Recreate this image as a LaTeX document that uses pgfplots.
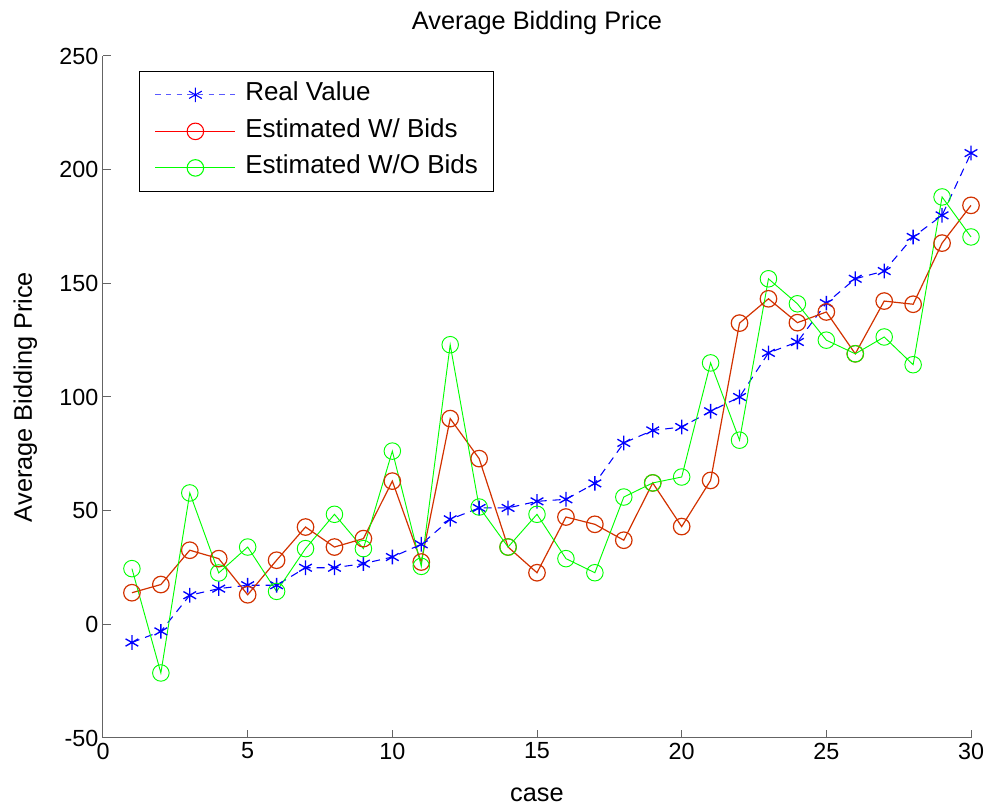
\documentclass[border=0pt]{standalone}
\usepackage{pgfplots}
\pgfplotsset{compat=1.18}
\usepackage{fontspec}
\setmainfont{Liberation Sans}
\definecolor{mred}{RGB}{210,50,0}
\definecolor{mgreen}{RGB}{0,255,0}
\definecolor{mblue}{RGB}{0,0,255}
\definecolor{axgray}{RGB}{100,100,100}
\pgfplotstableread{
x real wb wob
1 -8 13.9 24.5
2 -3.1 17.5 -21.4
3 12.8 32.6 57.8
4 15.7 28.9 22.6
5 17.2 13 34
6 17.2 28.2 14.5
7 24.9 42.8 33.3
8 24.9 34 48.4
9 26.7 37.7 33.3
10 29.6 63 76.2
11 35.2 27.4 25.5
12 46.2 90.5 123
13 51.2 72.9 51.6
14 51.2 34 34
15 54.1 22.7 48.4
16 55 47.2 28.9
17 62 44 22.7
18 79.8 37 56
19 85.3 62.2 62.2
20 86.8 43 64.8
21 93.7 63.3 115
22 100 132.5 81
23 119.4 143.2 152
24 124.2 132.7 141
25 141.3 137.4 125
26 152 119 119
27 155.4 142.2 126.4
28 170.4 140.8 114.2
29 179.9 167.7 188
30 207.3 184.3 170.4
}\datatable
\begin{document}
\begin{tikzpicture}
\begin{axis}[
  scale only axis,
  width=651pt, height=511.5pt,
  xmin=0, xmax=30, ymin=-50, ymax=250,
  axis x line*=bottom, axis y line*=left,
  axis line style={axgray, line width=0.75pt},
  xtick={0,5,...,30}, ytick={-50,0,...,250},
  tick align=inside, major tick length=6pt,
  tick style={axgray, line width=0.75pt},
  /pgf/number format/assume math mode=true,
  tick label style={font=\fontsize{17.5}{21}\selectfont},
  title={Average Bidding Price},
  title style={font=\fontsize{19}{23}\selectfont, at={(axis description cs:0.5,1.0264)}, anchor=base},
  xlabel={case},
  xlabel style={font=\fontsize{19}{23}\selectfont, inner sep=0pt, at={(axis description cs:0.5,-0.0924)}, anchor=base},
  ylabel={Average Bidding Price},
  ylabel style={font=\fontsize{19}{23}\selectfont, at={(axis description cs:-0.0818,0.5)}, anchor=base, rotate=0},
  clip=false,
  legend cell align=left,
  legend image code/.code={\draw[mark repeat=2,mark phase=2] plot coordinates {(0pt,0pt)(30pt,0pt)(60pt,0pt)};},
  legend style={at={(axis description cs:0.0415,0.978)}, anchor=north west,
    draw=black, line width=0.75pt, fill=white,
    font=\fontsize{19.5}{23}\selectfont,
    inner xsep=11.5pt, inner ysep=9pt,
    nodes={inner sep=0pt, text height=13pt, text depth=4pt},
    row sep=10.4pt,
    /tikz/every odd column/.append style={column sep=7pt}},
]
\addplot[mblue, line width=0.8pt, dash pattern=on 6pt off 4.5pt, mark=asterisk, mark size=5.5pt, mark options={solid, line width=1pt}, forget plot] table[x=x, y=real] {\datatable};
\addplot[mred, line width=0.9pt, mark=o, mark size=6.2pt, mark options={solid}, forget plot] table[x=x, y=wb] {\datatable};
\addplot[mgreen, line width=0.7pt, mark=o, mark size=6.2pt, mark options={solid}, forget plot] table[x=x, y=wob] {\datatable};
\addlegendimage{color={rgb,255:red,90;green,90;blue,255}, line width=0.8pt, dash pattern=on 4pt off 4pt, mark=asterisk, mark size=5.5pt, mark options={solid, mblue}}
\addlegendentry{Real Value}
\addlegendimage{red, line width=0.8pt, mark=o, mark size=6.2pt, mark options={solid}}
\addlegendentry{Estimated W/ Bids}
\addlegendimage{mgreen, line width=0.8pt, mark=o, mark size=6.2pt, mark options={solid}}
\addlegendentry{Estimated W/O Bids}
\end{axis}
\pgfresetboundingbox
\path (current axis.south west) ++(-77.25pt,-51pt) rectangle ++(741.75pt,604.5pt);
\end{tikzpicture}
\end{document}
